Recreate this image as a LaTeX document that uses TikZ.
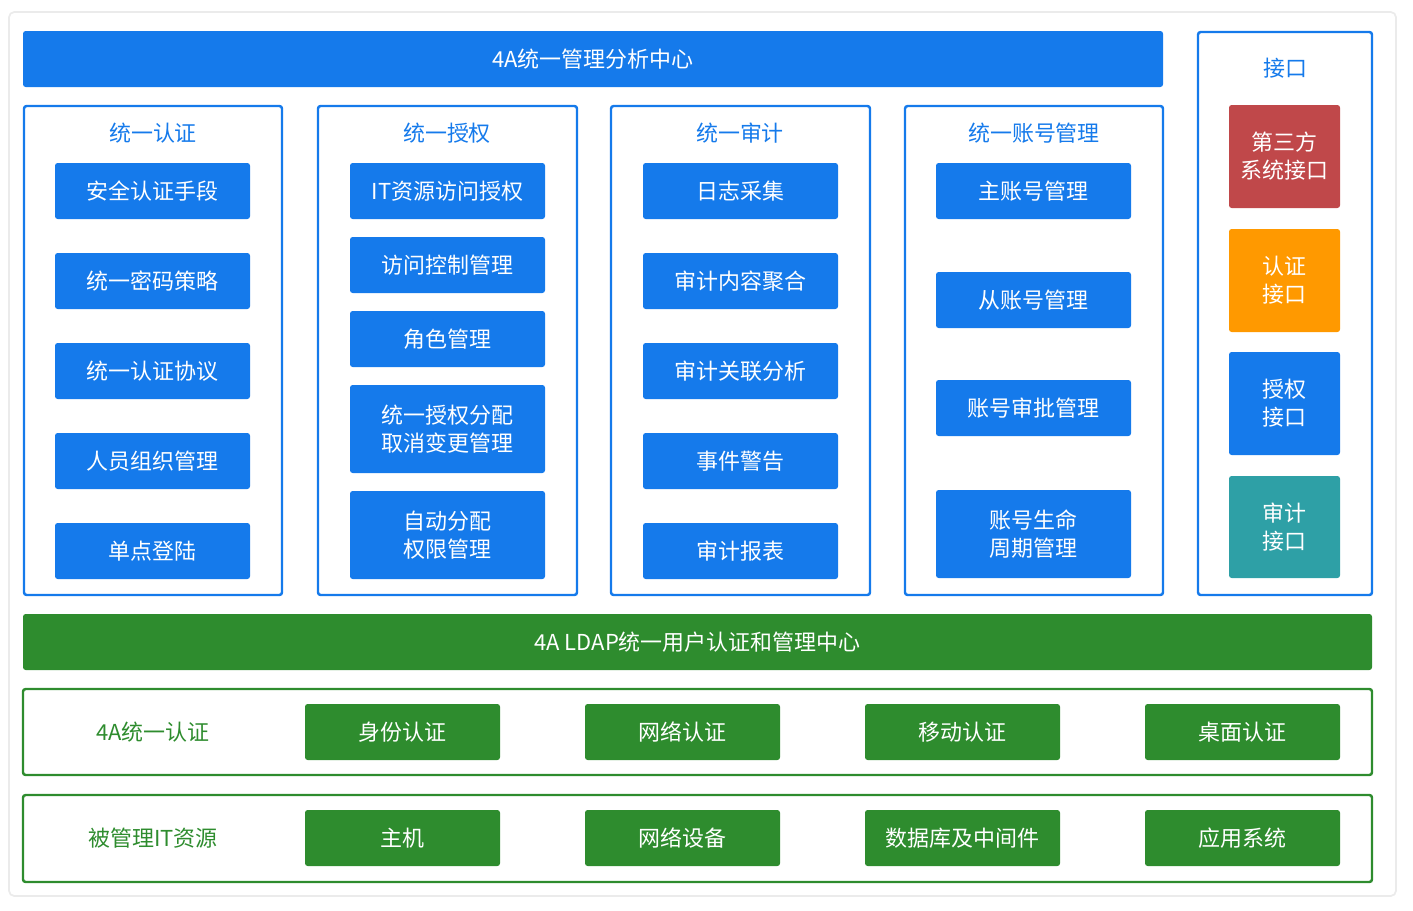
\documentclass[tikz,border=0pt]{standalone}
\usepackage{fontspec}
\setmainfont{Noto Sans CJK SC}
\definecolor{bl}{RGB}{21,122,235}
\definecolor{gr}{RGB}{46,140,46}
\definecolor{rd}{RGB}{192,72,74}
\definecolor{og}{RGB}{255,153,0}
\definecolor{tl}{RGB}{46,160,166}
\newcommand\bx[7][]{\node[#2,#1,minimum width={(#5-#3)*0.02cm},minimum height={(#6-#4)*0.02cm}] at ({(#3+#5)/2},{(#4+#6)/2}) {#7};}
\tikzset{
 fb/.style={fill=bl,text=white,inner sep=0pt,align=center,font=\fontsize{12.5}{16}\selectfont,rounded corners=1.5pt},
 fg/.style={fill=gr,text=white,inner sep=0pt,align=center,font=\fontsize{12.5}{16}\selectfont,rounded corners=1.5pt},
 pb/.style={draw=bl,line width=1.4pt,inner sep=0pt,rounded corners=1.5pt},
 pg/.style={draw=gr,line width=1.4pt,inner sep=0pt,rounded corners=1.5pt},
 tb/.style={text=bl,font=\fontsize{12.5}{16}\selectfont},
 tg/.style={text=gr,font=\fontsize{12.5}{16}\selectfont},
}
\begin{document}
\begin{tikzpicture}[x=0.02cm,y=-0.02cm]
\useasboundingbox (0,0) rectangle (1413,910);
\draw[black!8,line width=1pt,rounded corners=3pt] (9,12) rectangle (1396,896);
\bx{fb}{23}{31}{1163}{87}{4A统一管理分析中心}
% panels
\bx{pb}{24}{106}{282}{595}{}
\bx{pb}{318}{106}{577}{595}{}
\bx{pb}{611}{106}{870}{595}{}
\bx{pb}{905}{106}{1163}{595}{}
\bx{pb}{1198}{32}{1372}{595}{}
\node[tb] (t1) at (153,133) {统一认证};
\node[tb] (t2) at (447,133) {统一授权};
\node[tb] (t3) at (740,133) {统一审计};
\node[tb] (t4) at (1034,133) {统一账号管理};
\node[tb] (t5) at (1285,68) {接口};
% col1
\bx{fb}{55}{163}{250}{219}{安全认证手段}
\bx{fb}{55}{253}{250}{309}{统一密码策略}
\bx{fb}{55}{343}{250}{399}{统一认证协议}
\bx{fb}{55}{433}{250}{489}{人员组织管理}
\bx{fb}{55}{523}{250}{579}{单点登陆}
% col2
\bx{fb}{350}{163}{545}{219}{IT资源访问授权}
\bx{fb}{350}{237}{545}{293}{访问控制管理}
\bx{fb}{350}{311}{545}{367}{角色管理}
\bx{fb}{350}{385}{545}{473}{统一授权分配\\取消变更管理}
\bx{fb}{350}{491}{545}{579}{自动分配\\权限管理}
% col3
\bx{fb}{643}{163}{838}{219}{日志采集}
\bx{fb}{643}{253}{838}{309}{审计内容聚合}
\bx{fb}{643}{343}{838}{399}{审计关联分析}
\bx{fb}{643}{433}{838}{489}{事件警告}
\bx{fb}{643}{523}{838}{579}{审计报表}
% col4
\bx{fb}{936}{163}{1131}{219}{主账号管理}
\bx{fb}{936}{272}{1131}{328}{从账号管理}
\bx{fb}{936}{380}{1131}{436}{账号审批管理}
\bx{fb}{936}{490}{1131}{578}{账号生命\\周期管理}
% interfaces
\bx[fill=rd]{fb}{1229}{105}{1340}{208}{第三方\\系统接口}
\bx[fill=og]{fb}{1229}{229}{1340}{332}{认证\\接口}
\bx{fb}{1229}{352}{1340}{455}{授权\\接口}
\bx[fill=tl]{fb}{1229}{476}{1340}{578}{审计\\接口}
% green
\bx{fg}{23}{614}{1372}{670}{4A LDAP统一用户认证和管理中心}
\bx{pg}{23}{689}{1372}{775}{}
\bx{pg}{23}{795}{1372}{882}{}
\node[tg] (l1) at (153,732) {4A统一认证};
\node[tg] (l2) at (153,838) {被管理IT资源};
\bx{fg}{305}{704}{500}{760}{身份认证}
\bx{fg}{585}{704}{780}{760}{网络认证}
\bx{fg}{865}{704}{1060}{760}{移动认证}
\bx{fg}{1145}{704}{1340}{760}{桌面认证}
\bx{fg}{305}{810}{500}{866}{主机}
\bx{fg}{585}{810}{780}{866}{网络设备}
\bx{fg}{865}{810}{1060}{866}{数据库及中间件}
\bx{fg}{1145}{810}{1340}{866}{应用系统}
\end{tikzpicture}
\end{document}
